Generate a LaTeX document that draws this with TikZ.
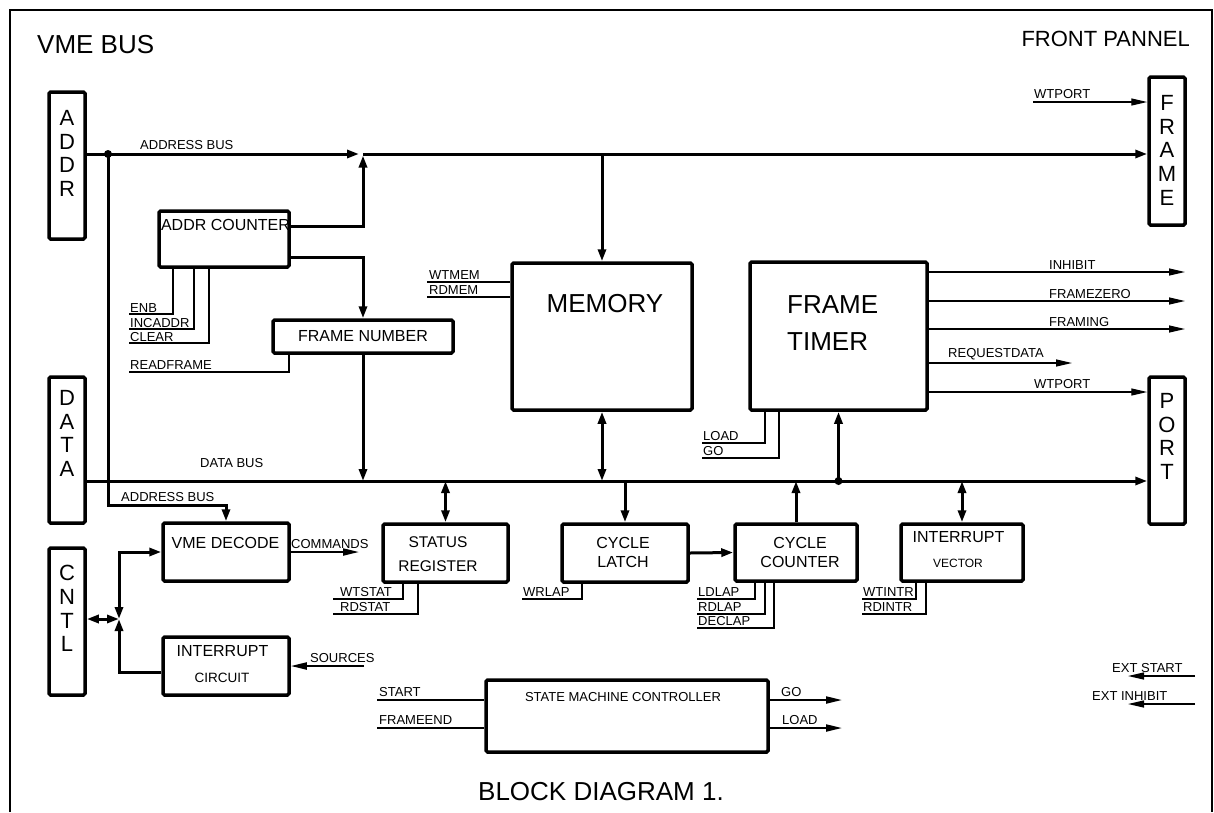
\documentclass[tikz,border=0pt]{standalone}
\usepackage{fontspec}
\setmainfont{Liberation Sans}
\usetikzlibrary{arrows.meta,positioning}

\begin{document}
\begin{tikzpicture}[
  x=1pt, y=-1pt,
  caja/.style={draw, line width=3.5pt, rounded corners=1.5pt, inner sep=0pt},
  bus/.style={line width=3pt},
  senal/.style={line width=1.3pt},
  medio/.style={line width=2pt},
  flecha/.style={-{Triangle[length=12pt,width=8pt]}},
  dflecha/.style={{Triangle[length=12pt,width=8pt]}-{Triangle[length=12pt,width=8pt]}},
  fina/.style={-{Triangle[length=16pt,width=7pt]}},
  texto/.style={inner sep=0pt},
  etq/.style={texto, anchor=south west, font=\fontsize{13}{15}\selectfont},
  grande/.style={texto, font=\fontsize{26}{30}\selectfont},
  mediano/.style={texto, font=\fontsize{16}{19}\selectfont},
  letras/.style={texto, anchor=north, align=center, font=\fontsize{22}{23.8}\selectfont}
]
  \useasboundingbox (0,0) rectangle (1214,812);
  \draw[line width=1.5pt] (10,812) -- (10,10) -- (1212,10) -- (1212,812);

  \node[grande, anchor=south west] (tvme) at (37,54) {VME BUS};
  \node[texto, anchor=south east, font=\fontsize{22}{26}\selectfont] (tfront) at (1190,47) {FRONT PANNEL};
  \node[grande] (tblock) at (601,791.5) {BLOCK DIAGRAM 1.};

  % conectores laterales
  \node[caja, minimum width=36pt, minimum height=147pt] (addr) at (67,165.5) {};
  \node[caja, minimum width=36pt, minimum height=146pt] (data) at (67,450) {};
  \node[caja, minimum width=36pt, minimum height=147pt] (cntl) at (67,621.5) {};
  \node[caja, minimum width=36pt, minimum height=148pt] (frame) at (1167,151) {};
  \node[caja, minimum width=36pt, minimum height=147pt] (port) at (1167,450.5) {};
  \node[letras] (taddr) at (67,110) {A\\D\\D\\R};
  \node[letras] (tdata) at (67,390) {D\\A\\T\\A};
  \node[letras] (tcntl) at (67,565) {C\\N\\T\\L};
  \node[letras] (tframe) at (1167,95) {F\\R\\A\\M\\E};
  \node[letras] (tport) at (1167,393) {P\\O\\R\\T};

  % bloques
  \node[caja, minimum width=130pt, minimum height=56pt] (addrcnt) at (224,239) {};
  \node[caja, mediano, minimum width=180pt, minimum height=33pt] (framenum) at (363,336.5) {FRAME NUMBER};
  \node[caja, minimum width=180pt, minimum height=147pt] (memory) at (602,336.5) {};
  \node[caja, minimum width=177pt, minimum height=148pt] (timer) at (838.5,336) {};
  \node[caja, minimum width=126pt, minimum height=58pt] (vmedec) at (226,552) {};
  \node[caja, minimum width=126pt, minimum height=58pt] (intcirc) at (226,666) {};
  \node[caja, minimum width=125pt, minimum height=58pt] (status) at (445.5,553) {};
  \node[caja, minimum width=126pt, minimum height=58pt] (latch) at (625,553) {};
  \node[caja, minimum width=122pt, minimum height=57pt] (counter) at (796,552.5) {};
  \node[caja, minimum width=122pt, minimum height=57pt] (intvec) at (962,552.5) {};
  \node[caja, minimum width=282pt, minimum height=72pt] (smc) at (627,716) {};

  % textos de los bloques
  \node[mediano] (taddrcnt) at (225.5,225) {ADDR COUNTER};
  \node[grande] (tmem) at (605,303.5) {MEMORY};
  \node[texto, anchor=north west, align=left, font=\fontsize{26}{37}\selectfont] (ttimer) at (787,295) {FRAME\\TIMER};
  \node[mediano] (tvmedec) at (225.5,542.5) {VME DECODE};
  \node[mediano] (tintc) at (222.5,651.5) {INTERRUPT};
  \node[texto, font=\fontsize{13.5}{16}\selectfont] (tcirc) at (222,677.5) {CIRCUIT};
  \node[texto, align=center, font=\fontsize{15.5}{24}\selectfont] (tstatus) at (438,554.5) {STATUS\\REGISTER};
  \node[texto, align=center, font=\fontsize{16}{19}\selectfont] (tlatch) at (623,552) {CYCLE\\LATCH};
  \node[texto, align=center, font=\fontsize{16}{19}\selectfont] (tcounter) at (800,552) {CYCLE\\COUNTER};
  \node[mediano] (tintv) at (958.5,537.5) {INTERRUPT};
  \node[texto, font=\fontsize{12}{14}\selectfont] (tvector) at (958,563.5) {VECTOR};
  \node[texto, font=\fontsize{13}{15}\selectfont] (tsmc) at (623,697) {STATE MACHINE CONTROLLER};

  % bus de direcciones
  \coordinate (ab) at (108,154);
  \coordinate (jab) at (363,154);
  \draw[bus, flecha, shorten >=4pt] (addr.east |- ab) -- (jab);
  \draw[bus, flecha] (jab) -- (frame.west |- ab);
  \fill (ab) circle (4pt);
  \node[etq] (tab1) at (140,150) {ADDRESS BUS};
  \draw[bus, flecha, shorten >=1.5pt] ([yshift=13pt]addrcnt.east) -| (jab);
  \draw[bus, flecha] ([yshift=-18pt]addrcnt.east) -| (framenum.north);
  \draw[bus, flecha] (memory.north |- ab) -- (memory.north);
  \draw[bus, flecha] (ab) -- ++(0,351) -| (vmedec.north);
  \node[etq] (tab2) at (121,502) {ADDRESS BUS};

  % bus de datos
  \coordinate (db) at (838.5,481);
  \draw[bus, flecha] (data.east |- db) -- (port.west |- db);
  \fill (db) circle (4pt);
  \node[etq] (tdb) at (200,468) {DATA BUS};
  \draw[bus, flecha] (framenum.south) -- (framenum.south |- db);
  \draw[bus, dflecha] (memory.south) -- (memory.south |- db);
  \draw[bus, flecha] (db) -- (timer.south);
  \draw[bus, dflecha] (status.north |- db) -- (status.north);
  \draw[bus, flecha] (latch.north |- db) -- (latch.north);
  \draw[bus, flecha] (counter.north) -- (counter.north |- db);
  \draw[bus, dflecha] (intvec.north |- db) -- (intvec.north);
  \draw[bus, flecha] (latch.east) -- (counter.west);

  % control
  \coordinate (jc) at (119,619);
  \draw[bus, dflecha] (cntl.east |- jc) -- (jc);
  \draw[bus, dflecha] (vmedec.west) -| (jc);
  \draw[bus, flecha] ([yshift=-6pt]intcirc.west) -| (jc);
  \coordinate (cmd) at (359,552);
  \draw[medio, fina] (vmedec.east) -- (cmd);
  \node[etq] (tcmd) at (291,549) {COMMANDS};
  \coordinate (src) at (364,666);
  \draw[medio, fina] (src) -- (intcirc.east);
  \node[etq] (tsrc) at (310,663) {SOURCES};

  % senales de ADDR COUNTER y FRAME NUMBER
  \foreach \dx/\y/\txt in {-51/314/ENB, -30/329/INCADDR, -15/343/CLEAR} {
    \coordinate (c\txt) at (129,\y);
    \draw[senal] ([xshift=\dx pt]addrcnt.south) |- (c\txt);
    \node[etq] (t\txt) at (130,\y-1.5) {\txt};
  }
  \coordinate (crf) at (129,372);
  \draw[senal] ([xshift=-74pt]framenum.south) |- (crf);
  \node[etq] (trf) at (130,370) {READFRAME};

  % memoria
  \foreach \y/\txt in {282/WTMEM, 297/RDMEM} {
    \coordinate (c\txt) at (427,\y);
    \draw[senal] (c\txt) -- (memory.west |- c\txt);
    \node[etq] (t\txt) at (429,\y-2) {\txt};
  }

  % frame timer
  \foreach \y/\txt in {272/INHIBIT, 301/FRAMEZERO, 329/FRAMING} {
    \coordinate (c\txt) at (1185,\y);
    \draw[senal, fina] (timer.east |- c\txt) -- (c\txt);
    \node[etq] (t\txt) at (1049,\y-2.5) {\txt};
  }
  \coordinate (creq) at (1072,363);
  \draw[senal, fina] (timer.east |- creq) -- (creq);
  \node[etq] (treq) at (948,360) {REQUESTDATA};
  \coordinate (cwtp) at (927,392);
  \draw[senal, fina] (timer.east |- cwtp) -- (port.west |- cwtp);
  \node[etq] (twtp) at (1034,389) {WTPORT};
  \coordinate (cwtpf) at (1033,102);
  \draw[senal, fina] (cwtpf) -- (frame.west |- cwtpf);
  \node[etq] (twtpf) at (1034,99) {WTPORT};
  \foreach \dx/\y/\txt in {-73.5/443/LOAD, -59.5/458/GO} {
    \coordinate (c\txt) at (702,\y);
    \draw[senal] ([xshift=\dx pt]timer.south) |- (c\txt);
    \node[etq] (t\txt) at (703,\y-2) {\txt};
  }

  % senales de los registros
  \foreach \dx/\y/\txt in {-42.5/599/WTSTAT, -27.5/614/RDSTAT} {
    \coordinate (c\txt) at (333,\y);
    \draw[senal] ([xshift=\dx pt]status.south) |- (c\txt);
    \node[etq] (t\txt) at (340,\y-2) {\txt};
  }
  \coordinate (cwrlap) at (522,599);
  \draw[senal] ([xshift=-43pt]latch.south) |- (cwrlap);
  \node[etq] (twrlap) at (523,597) {WRLAP};
  \foreach \dx/\y/\txt in {-41/599/LDLAP, -31/614/RDLAP, -22/628/DECLAP} {
    \coordinate (c\txt) at (697,\y);
    \draw[senal] ([xshift=\dx pt]counter.south) |- (c\txt);
    \node[etq] (t\txt) at (698,\y-2) {\txt};
  }
  \foreach \dx/\y/\txt in {-46/599/WTINTR, -36/614/RDINTR} {
    \coordinate (c\txt) at (862,\y);
    \draw[senal] ([xshift=\dx pt]intvec.south) |- (c\txt);
    \node[etq] (t\txt) at (863,\y-2) {\txt};
  }

  % controlador
  \coordinate (cstart) at (377,700);
  \coordinate (cfend) at (377,728);
  \draw[medio] (cstart) -- (smc.west |- cstart);
  \draw[medio] (cfend) -- (smc.west |- cfend);
  \node[etq] (tstart) at (379,697) {START};
  \node[etq] (tfend) at (379,725) {FRAMEEND};
  \coordinate (cgo) at (842,700);
  \coordinate (cload) at (842,728);
  \draw[medio, fina] (smc.east |- cgo) -- (cgo);
  \draw[medio, fina] (smc.east |- cload) -- (cload);
  \node[etq] (tgo) at (781,697) {GO};
  \node[etq] (tload) at (782,725) {LOAD};

  % entradas externas
  \coordinate (cexs) at (1195,676);
  \coordinate (cexsf) at (1128,676);
  \coordinate (cexi) at (1195,704);
  \coordinate (cexif) at (1128,704);
  \draw[senal, fina] (cexs) -- (cexsf);
  \draw[senal, fina] (cexi) -- (cexif);
  \node[etq] (texs) at (1112,673) {EXT START};
  \node[etq] (texi) at (1092,701) {EXT INHIBIT};
\end{tikzpicture}
\end{document}
